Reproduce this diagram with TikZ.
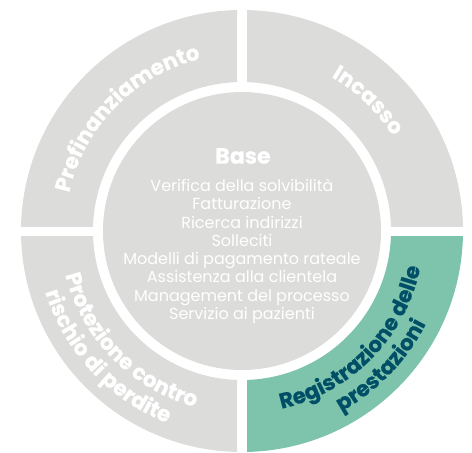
\documentclass[tikz,border=0pt]{standalone}
\usepackage{fontspec}
\setmainfont{Poppins}[BoldFeatures={FakeBold=0.6}]
\usetikzlibrary{decorations.text,calc}
\definecolor{ringgray}{HTML}{DCDCDA}
\definecolor{ringgreen}{HTML}{7EC4AC}
\definecolor{darkteal}{HTML}{004F66}
\tikzset{
  ringlabel/.style={decorate},
  centertext/.style={text=white, align=center, inner sep=0pt},
}
\newcommand{\ringfont}{\fontsize{21.5}{25}\selectfont\bfseries}
\begin{document}
\begin{tikzpicture}[x=1pt,y=1pt]
\useasboundingbox (0,0) rectangle (472,-453);
\coordinate (C) at (242,-231);
% outer ring sectors
\begin{scope}
  \clip ($(C)+(-300,5)$) rectangle ($(C)+(-5,300)$);
  \fill[ringgray, even odd rule] (C) circle[radius=221] (C) circle[radius=149];
\end{scope}
\begin{scope}
  \clip ($(C)+(5,5)$) rectangle ($(C)+(300,300)$);
  \fill[ringgray, even odd rule] (C) circle[radius=221] (C) circle[radius=149];
\end{scope}
\begin{scope}
  \clip ($(C)+(-300,-300)$) rectangle ($(C)+(-5,-5)$);
  \fill[ringgray, even odd rule] (C) circle[radius=221] (C) circle[radius=149];
\end{scope}
\begin{scope}
  \clip ($(C)+(5,-300)$) rectangle ($(C)+(300,-5)$);
  \fill[ringgreen, even odd rule] (C) circle[radius=221] (C) circle[radius=149];
\end{scope}
% inner circle
\fill[ringgray] (C) circle[radius=139];
% ring labels
\path[ringlabel, decoration={text along path, text align=center,
  text={|\ringfont\color{white}|Prefinanziamento}}]
  ($(C)+(225.5:177)$) arc[start angle=225.5, end angle=45.5, radius=177];
\path[ringlabel, decoration={text along path, text align=center,
  text={|\ringfont\color{white}|Incasso}}]
  ($(C)+(136:178)$) arc[start angle=136, end angle=-44, radius=178];
\path[ringlabel, decoration={text along path, text align=center,
  text={|\ringfont\color{white}|Protezione contro}}]
  ($(C)+(134.5:182)$) arc[start angle=134.5, end angle=314.5, radius=182];
\path[ringlabel, decoration={text along path, text align=center,
  text={|\ringfont\color{white}|rischio di perdite}}]
  ($(C)+(133:206)$) arc[start angle=133, end angle=313, radius=206];
\path[ringlabel, decoration={text along path, text align=center,
  text={|\ringfont\color{darkteal}|Registrazione delle}}]
  ($(C)+(225.5:182)$) arc[start angle=225.5, end angle=405.5, radius=182];
\path[ringlabel, decoration={text along path, text align=center,
  text={|\ringfont\color{darkteal}|prestazioni}}]
  ($(C)+(226:206)$) arc[start angle=226, end angle=406, radius=206];
% center texts
\node[centertext, font=\fontsize{22}{26}\selectfont\bfseries] (base) at (243,-156) {Base};
\node[centertext, font=\fontsize{16}{18.3}\selectfont] (list) at (242,-251.3) {Verifica della solvibilità\\Fatturazione\\Ricerca indirizzi\\Solleciti\\Modelli di pagamento rateale\\Assistenza alla clientela\\Management del processo\\Servizio ai pazienti};
\end{tikzpicture}
\end{document}
